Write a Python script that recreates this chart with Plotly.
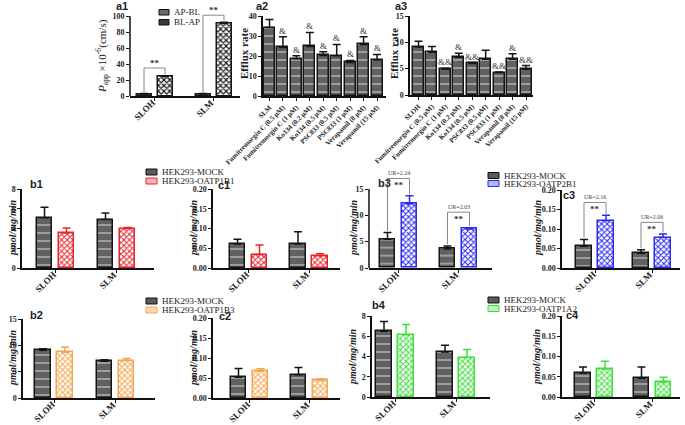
import plotly.graph_objects as go

# ---------------- data ----------------
a1_categories = ["SLOH", "SLM"]
a1_apbl = [2.5, 2.5]
a1_apbl_err = [0.5, 0.6]
a1_blap = [24.0, 91.0]
a1_blap_err = [0.8, 1.2]
a1_bracket_top = [35, 101]
a1_sig = ["**", "**"]

inhibitors = ["Fumitremorgin C (0.5 μM)", "Fumitremorgin C (1 μM)", "Ko134 (0.2 μM)",
              "Ko134 (0.5 μM)", "PSC833 (0.5 μM)", "PSC833 (1 μM)",
              "Verapamil (8 μM)", "Verapamil (15 μM)"]
a2_categories = ["SLM"] + inhibitors
a2_values = [34.2, 24.3, 18.6, 24.8, 20.3, 20.1, 16.8, 25.8, 18.0]
a2_err = [4.0, 5.3, 1.5, 7.0, 1.8, 5.7, 1.0, 3.8, 2.8]
a2_marks = ["", "&", "&", "&", "&", "&", "&", "&", "&"]

a3_categories = ["SLOH"] + inhibitors
a3_values = [9.1, 8.1, 4.9, 7.15, 6.0, 6.8, 4.25, 6.8, 4.9]
a3_err = [1.1, 1.1, 0.2, 0.8, 0.15, 1.7, 0.1, 1.05, 0.7]
a3_marks = ["", "", "&&", "&", "&&", "", "&&", "&", "&&"]

uptake_categories = ["SLOH", "SLM"]

b1_mock = [5.1, 4.9];      b1_mock_err = [1.05, 0.67]
b1_oatp = [3.55, 4.0];     b1_oatp_err = [0.5, 0.1]
c1_mock = [0.061, 0.061];  c1_mock_err = [0.012, 0.031]
c1_oatp = [0.034, 0.031];  c1_oatp_err = [0.024, 0.005]

b3_mock = [5.45, 3.6];     b3_mock_err = [1.3, 0.6]
b3_oatp = [12.2, 7.4];     b3_oatp_err = [1.5, 0.25]
b3_bracket_top = [17.0, 10.6]
b3_ur = ["UR=2.24", "UR=2.03"]
c3_mock = [0.056, 0.038];  c3_mock_err = [0.017, 0.009]
c3_oatp = [0.121, 0.078];  c3_oatp_err = [0.014, 0.009]
c3_bracket_top = [0.168, 0.117]
c3_ur = ["UR=2.16", "UR=2.06"]

b2_mock = [9.05, 7.0];     b2_mock_err = [0.3, 0.25]
b2_oatp = [8.7, 7.1];      b2_oatp_err = [1.0, 0.4]
c2_mock = [0.052, 0.058];  c2_mock_err = [0.022, 0.018]
c2_oatp = [0.067, 0.044];  c2_oatp_err = [0.006, 0.004]

b4_mock = [6.5, 4.45];     b4_mock_err = [0.95, 0.65]
b4_oatp = [6.15, 3.9];     b4_oatp_err = [1.0, 0.8]
c4_mock = [0.059, 0.046];  c4_mock_err = [0.015, 0.028]
c4_oatp = [0.069, 0.037];  c4_oatp_err = [0.019, 0.012]

legend_mock = "HEK293-MOCK"
legend_names = ["HEK293-OATP1B1", "HEK293-OATP2B1", "HEK293-OATP1B3", "HEK293-OATP1A2"]

# ---------------- styling / layout ----------------
W, H = 685, 425
SERIF = "Liberation Serif"
SANS = "Liberation Sans"
RED, BLUE, ORANGE, GREEN = "#e4242c", "#2b2bee", "#f5a650", "#3ee03e"

fig = go.Figure()
shapes, annotations = [], []
layout = dict(template="none", width=W, height=H, margin=dict(l=0, r=0, t=0, b=0, pad=0),
              paper_bgcolor="white", plot_bgcolor="white", showlegend=False,
              bargap=0, barmode="overlay", font=dict(family=SERIF, color="#222"))

counter = [0]


def make_axes(left, right, c0, cl, ncat, y0px, ytoppx, ymax, tickvals, tickfmt,
              ext=None, xfont=10, yfont=8, native_labels=True):
    counter[0] += 1
    n = counter[0]
    sfx = "" if n == 1 else str(n)
    ppu = (cl - c0) / (ncat - 1)
    r0 = -(c0 - left) / ppu
    r1 = (ncat - 1) + (right - cl) / ppu
    ytop = ext if ext else ymax
    pxu = (y0px - ytoppx) / ymax
    dom_top = y0px - ytop * pxu
    layout["xaxis" + sfx] = dict(
        domain=[left / W, right / W], range=[r0, r1], anchor="y" + sfx, type="category",
        automargin=False, showline=True, linecolor="#111", linewidth=1.5, ticks="outside",
        ticklen=3, tickwidth=1, tickcolor="#111", tickangle=-45, showgrid=False,
        zeroline=False, fixedrange=True, showticklabels=native_labels,
        tickfont=dict(family=SERIF, size=xfont, color="#222", weight="bold"))
    layout["yaxis" + sfx] = dict(
        domain=[1 - y0px / H, 1 - dom_top / H], range=[0, ytop], anchor="x" + sfx,
        automargin=False, showline=ext is None, linecolor="#111", linewidth=1.5,
        ticks="outside", ticklen=3, tickwidth=1, tickcolor="#111", tickvals=tickvals,
        tickformat=tickfmt, showgrid=False, zeroline=False, fixedrange=True,
        tickfont=dict(family=SERIF, size=yfont, color="#222", weight="bold"))
    if ext:
        shapes.append(dict(type="line", xref="x" + sfx + " domain", yref="y" + sfx + " domain",
                           x0=0, x1=0, y0=0, y1=ymax / ext, line=dict(color="#111", width=1.5)))
    return "x" + sfx, "y" + sfx, ppu


def tick_labels(xr, yr, cats, size=9):
    for i, c in enumerate(cats):
        annotations.append(dict(xref=xr, yref=yr, x=i, y=0, text=c, showarrow=False,
                                textangle=-45, xanchor="right", yanchor="top",
                                xshift=4, yshift=0, borderpad=0,
                                font=dict(family=SERIF, size=size, color="#222",
                                          weight="bold")))


def grey_marker():
    return dict(color="#616161", line=dict(color="#151515", width=1.5),
                pattern=dict(shape="-", fgcolor="#cdcdcd", bgcolor="#616161", size=8,
                             solidity=0.14, fillmode="replace"))


def color_marker(c):
    return dict(color="white", line=dict(color=c, width=1.5),
                pattern=dict(shape="x", fgcolor=c, bgcolor="white", size=4, solidity=0.45,
                             fillmode="replace"))


def err(e, c):
    return dict(type="data", symmetric=False, array=e, arrayminus=[0] * len(e),
                color=c, thickness=1.5, width=4)


def add_bar(xr, yr, cats, vals, e, wu, off, marker, ecol):
    fig.add_trace(go.Bar(x=cats, y=vals, width=[wu] * len(cats), offset=off,
                         xaxis=xr, yaxis=yr, marker=marker, error_y=err(e, ecol),
                         hoverinfo="skip"))


def text(xp, yp, t, size, family=SERIF, bold=False, italic=False, angle=0, color="#222",
         xanchor="center"):
    annotations.append(dict(xref="paper", yref="paper", x=xp / W, y=1 - yp / H, text=t,
                            showarrow=False, textangle=angle, xanchor=xanchor, yanchor="middle",
                            font=dict(family=family, size=size, color=color,
                                      weight="bold" if bold else "normal",
                                      style="italic" if italic else "normal")))


def legend_entry(xp, yp, label, fill, border):
    shapes.append(dict(type="rect", xref="paper", yref="paper", x0=xp / W, x1=(xp + 11) / W,
                       y0=1 - (yp + 3) / H, y1=1 - (yp - 3) / H, fillcolor=fill,
                       line=dict(color=border, width=1)))
    text(xp + 14, yp, label, 9, xanchor="left")


def bracket(xr, yr, xl, xrr, yl, yrt, top, color="#888"):
    for (xa, ya, xb, yb) in [(xl, yl, xl, top), (xl, top, xrr, top), (xrr, top, xrr, yrt)]:
        shapes.append(dict(type="line", xref=xr, yref=yr, x0=xa, x1=xb, y0=ya, y1=yb,
                           line=dict(color=color, width=1)))


# ----- a1 -----
xr, yr, ppu = make_axes(130, 240, 154.5, 213.5, 2, 96, 16, 100, [0, 20, 40, 60, 80, 100],
                        "d", ext=112, native_labels=False)
tick_labels(xr, yr, a1_categories)
w, g = 15, 6
add_bar(xr, yr, a1_categories, a1_apbl, a1_apbl_err, w / ppu, -(w + g / 2) / ppu,
        dict(color="#6a6a6a", line=dict(color="#151515", width=1.5),
             pattern=dict(shape="x", fgcolor="#2a2a2a", bgcolor="#9a9a9a", size=3,
                          solidity=0.4, fillmode="replace")), "#151515")
add_bar(xr, yr, a1_categories, a1_blap, a1_blap_err, w / ppu, (g / 2) / ppu,
        dict(color="white", line=dict(color="#151515", width=1.5),
             pattern=dict(shape="x", fgcolor="#1a1a1a", bgcolor="white", size=4,
                          solidity=0.5, fillmode="replace")), "#151515")
d = (w + g) / 2 / ppu
for i in range(2):
    bracket(xr, yr, i - d, i + d, a1_apbl[i] + a1_apbl_err[i] + 1.5,
            a1_blap[i] + a1_blap_err[i] + 2, a1_bracket_top[i])
    annotations.append(dict(xref=xr, yref=yr, x=i, y=a1_bracket_top[i], text=a1_sig[i],
                            showarrow=False, yshift=5, font=dict(family=SERIF, size=9,
                                                                 color="#333", weight="bold")))
shapes.append(dict(type="rect", xref="paper", yref="paper", x0=159 / W, x1=169 / W,
                   y0=1 - 15 / H, y1=1 - 9.5 / H, fillcolor="#6a6a6a",
                   line=dict(color="#111", width=1)))
text(172, 12, "AP-BL", 9, xanchor="left")
shapes.append(dict(type="rect", xref="paper", yref="paper", x0=159 / W, x1=169 / W,
                   y0=1 - 25 / H, y1=1 - 19.5 / H, fillcolor="#3a3a3a",
                   line=dict(color="#111", width=1)))
text(172, 22, "BL-AP", 9, xanchor="left")
text(102, 56, "<i>P</i><sub>app</sub> ×10<sup>-6</sup>(cm/s)", 11, angle=-90)
text(122, 6, "a1", 11, family=SANS, bold=True)

# ----- a2 / a3 -----
for cats, vals, e, marks, spec, lab, labx, tx in [
        (a2_categories, a2_values, a2_err, a2_marks,
         (263, 386, 269.5, 377, 9, 96, 16, 40, [0, 10, 20, 30, 40]), "a2", 262, 244),
        (a3_categories, a3_values, a3_err, a3_marks,
         (410, 533, 418.5, 526, 9, 95, 16, 15, [0, 5, 10, 15]), "a3", 401, 394)]:
    xr, yr, ppu = make_axes(*spec, "d", xfont=7)
    wu = 11 / ppu
    add_bar(xr, yr, cats, vals, e, wu, -wu / 2, grey_marker(), "#151515")
    for i, m in enumerate(marks):
        if m:
            annotations.append(dict(xref=xr, yref=yr, x=i, y=vals[i] + e[i], text=m,
                                    showarrow=False, yshift=6,
                                    font=dict(family=SERIF, size=9, color="#333")))
    text(tx, 54, "Efflux rate", 11, bold=True, angle=-90)
    text(labx, 6, lab, 11, family=SANS, bold=True)

# ----- uptake panels -----
ticks_c = [0, 0.05, 0.10, 0.15, 0.20]
uptake = [
    ("b1", b1_mock, b1_mock_err, b1_oatp, b1_oatp_err, RED,
     (22, 154, 55.5, 116.5, 2, 268, 189, 8), [0, 2, 4, 6, 8], "d", None, (36, 184), 12, 228),
    ("c1", c1_mock, c1_mock_err, c1_oatp, c1_oatp_err, RED,
     (213, 340, 248.5, 309, 2, 268, 189, 0.2), ticks_c, ".2f", None, (224, 185), 193, 228),
    ("b3", b3_mock, b3_mock_err, b3_oatp, b3_oatp_err, BLUE,
     (369, 492, 398.5, 458.5, 2, 268, 189, 15), [0, 5, 10, 15], "d", 18.3, (384, 183), 353, 228),
    ("c3", c3_mock, c3_mock_err, c3_oatp, c3_oatp_err, BLUE,
     (562, 680, 595, 652, 2, 268, 190, 0.2), ticks_c, ".2f", None, (569, 195), 537, 228),
    ("b2", b2_mock, b2_mock_err, b2_oatp, b2_oatp_err, ORANGE,
     (23, 155, 54, 115.5, 2, 398, 319, 15), [0, 5, 10, 15], "d", None, (36, 315), 12, 358),
    ("c2", c2_mock, c2_mock_err, c2_oatp, c2_oatp_err, ORANGE,
     (213, 340, 249.5, 309.5, 2, 398, 318, 0.2), ticks_c, ".2f", None, (225, 316), 193, 358),
    ("b4", b4_mock, b4_mock_err, b4_oatp, b4_oatp_err, GREEN,
     (372, 490, 395, 456, 2, 397, 316, 8), [0, 2, 4, 6, 8], "d", None, (379, 305), 352, 357),
    ("c4", c4_mock, c4_mock_err, c4_oatp, c4_oatp_err, GREEN,
     (562, 680, 594, 652.5, 2, 397, 316, 0.2), ticks_c, ".2f", None, (572, 315), 536, 357),
]
brackets = {"b3": (b3_bracket_top, b3_ur), "c3": (c3_bracket_top, c3_ur)}

for (name, mock, me, oatp, oe, col, spec, tv, fmt, ext, lpos, tx, ty) in uptake:
    xr, yr, ppu = make_axes(*spec, tv, fmt, ext=ext, native_labels=False)
    tick_labels(xr, yr, uptake_categories)
    w, g = 15.5, 6.5
    add_bar(xr, yr, uptake_categories, mock, me, w / ppu, -(w + g / 2) / ppu,
            grey_marker(), "#151515")
    add_bar(xr, yr, uptake_categories, oatp, oe, w / ppu, (g / 2) / ppu, color_marker(col), col)
    text(tx, ty, "pmol/mg/min", 10, bold=True, italic=True, angle=-90)
    text(lpos[0], lpos[1], name, 11, family=SANS, bold=True)
    if name in brackets:
        tops, urs = brackets[name]
        d = (w + g) / 2 / ppu
        for i in range(2):
            bracket(xr, yr, i - d, i + d, mock[i] + me[i] + 0.02 * spec[7],
                    oatp[i] + oe[i] + 0.02 * spec[7], tops[i])
            annotations.append(dict(xref=xr, yref=yr, x=i, y=tops[i], text=urs[i],
                                    showarrow=False, yshift=5,
                                    font=dict(family=SERIF, size=6, color="#444")))
            annotations.append(dict(xref=xr, yref=yr, x=i, y=tops[i], text="**",
                                    showarrow=False, yshift=-7,
                                    font=dict(family=SERIF, size=9, color="#333",
                                              weight="bold")))

# legends
for (lx, ly1, ly2, label, col, light) in [
        (146, 172, 181, legend_names[0], RED, "#f6b4b4"),
        (488, 175.5, 183.5, legend_names[1], BLUE, "#b4b4f8"),
        (146, 301, 310, legend_names[2], ORANGE, "#fbd9b3"),
        (488, 300, 308.5, legend_names[3], GREEN, "#b8f5b8")]:
    legend_entry(lx, ly1, legend_mock, "#5a5a5a", "#111")
    legend_entry(lx, ly2, label, light, col)

layout["shapes"] = shapes
layout["annotations"] = annotations
fig.update_layout(**layout)
fig.write_html("out.html", config={"displayModeBar": False},
               post_script="document.body.style.margin='0';document.body.style.padding='0';")
